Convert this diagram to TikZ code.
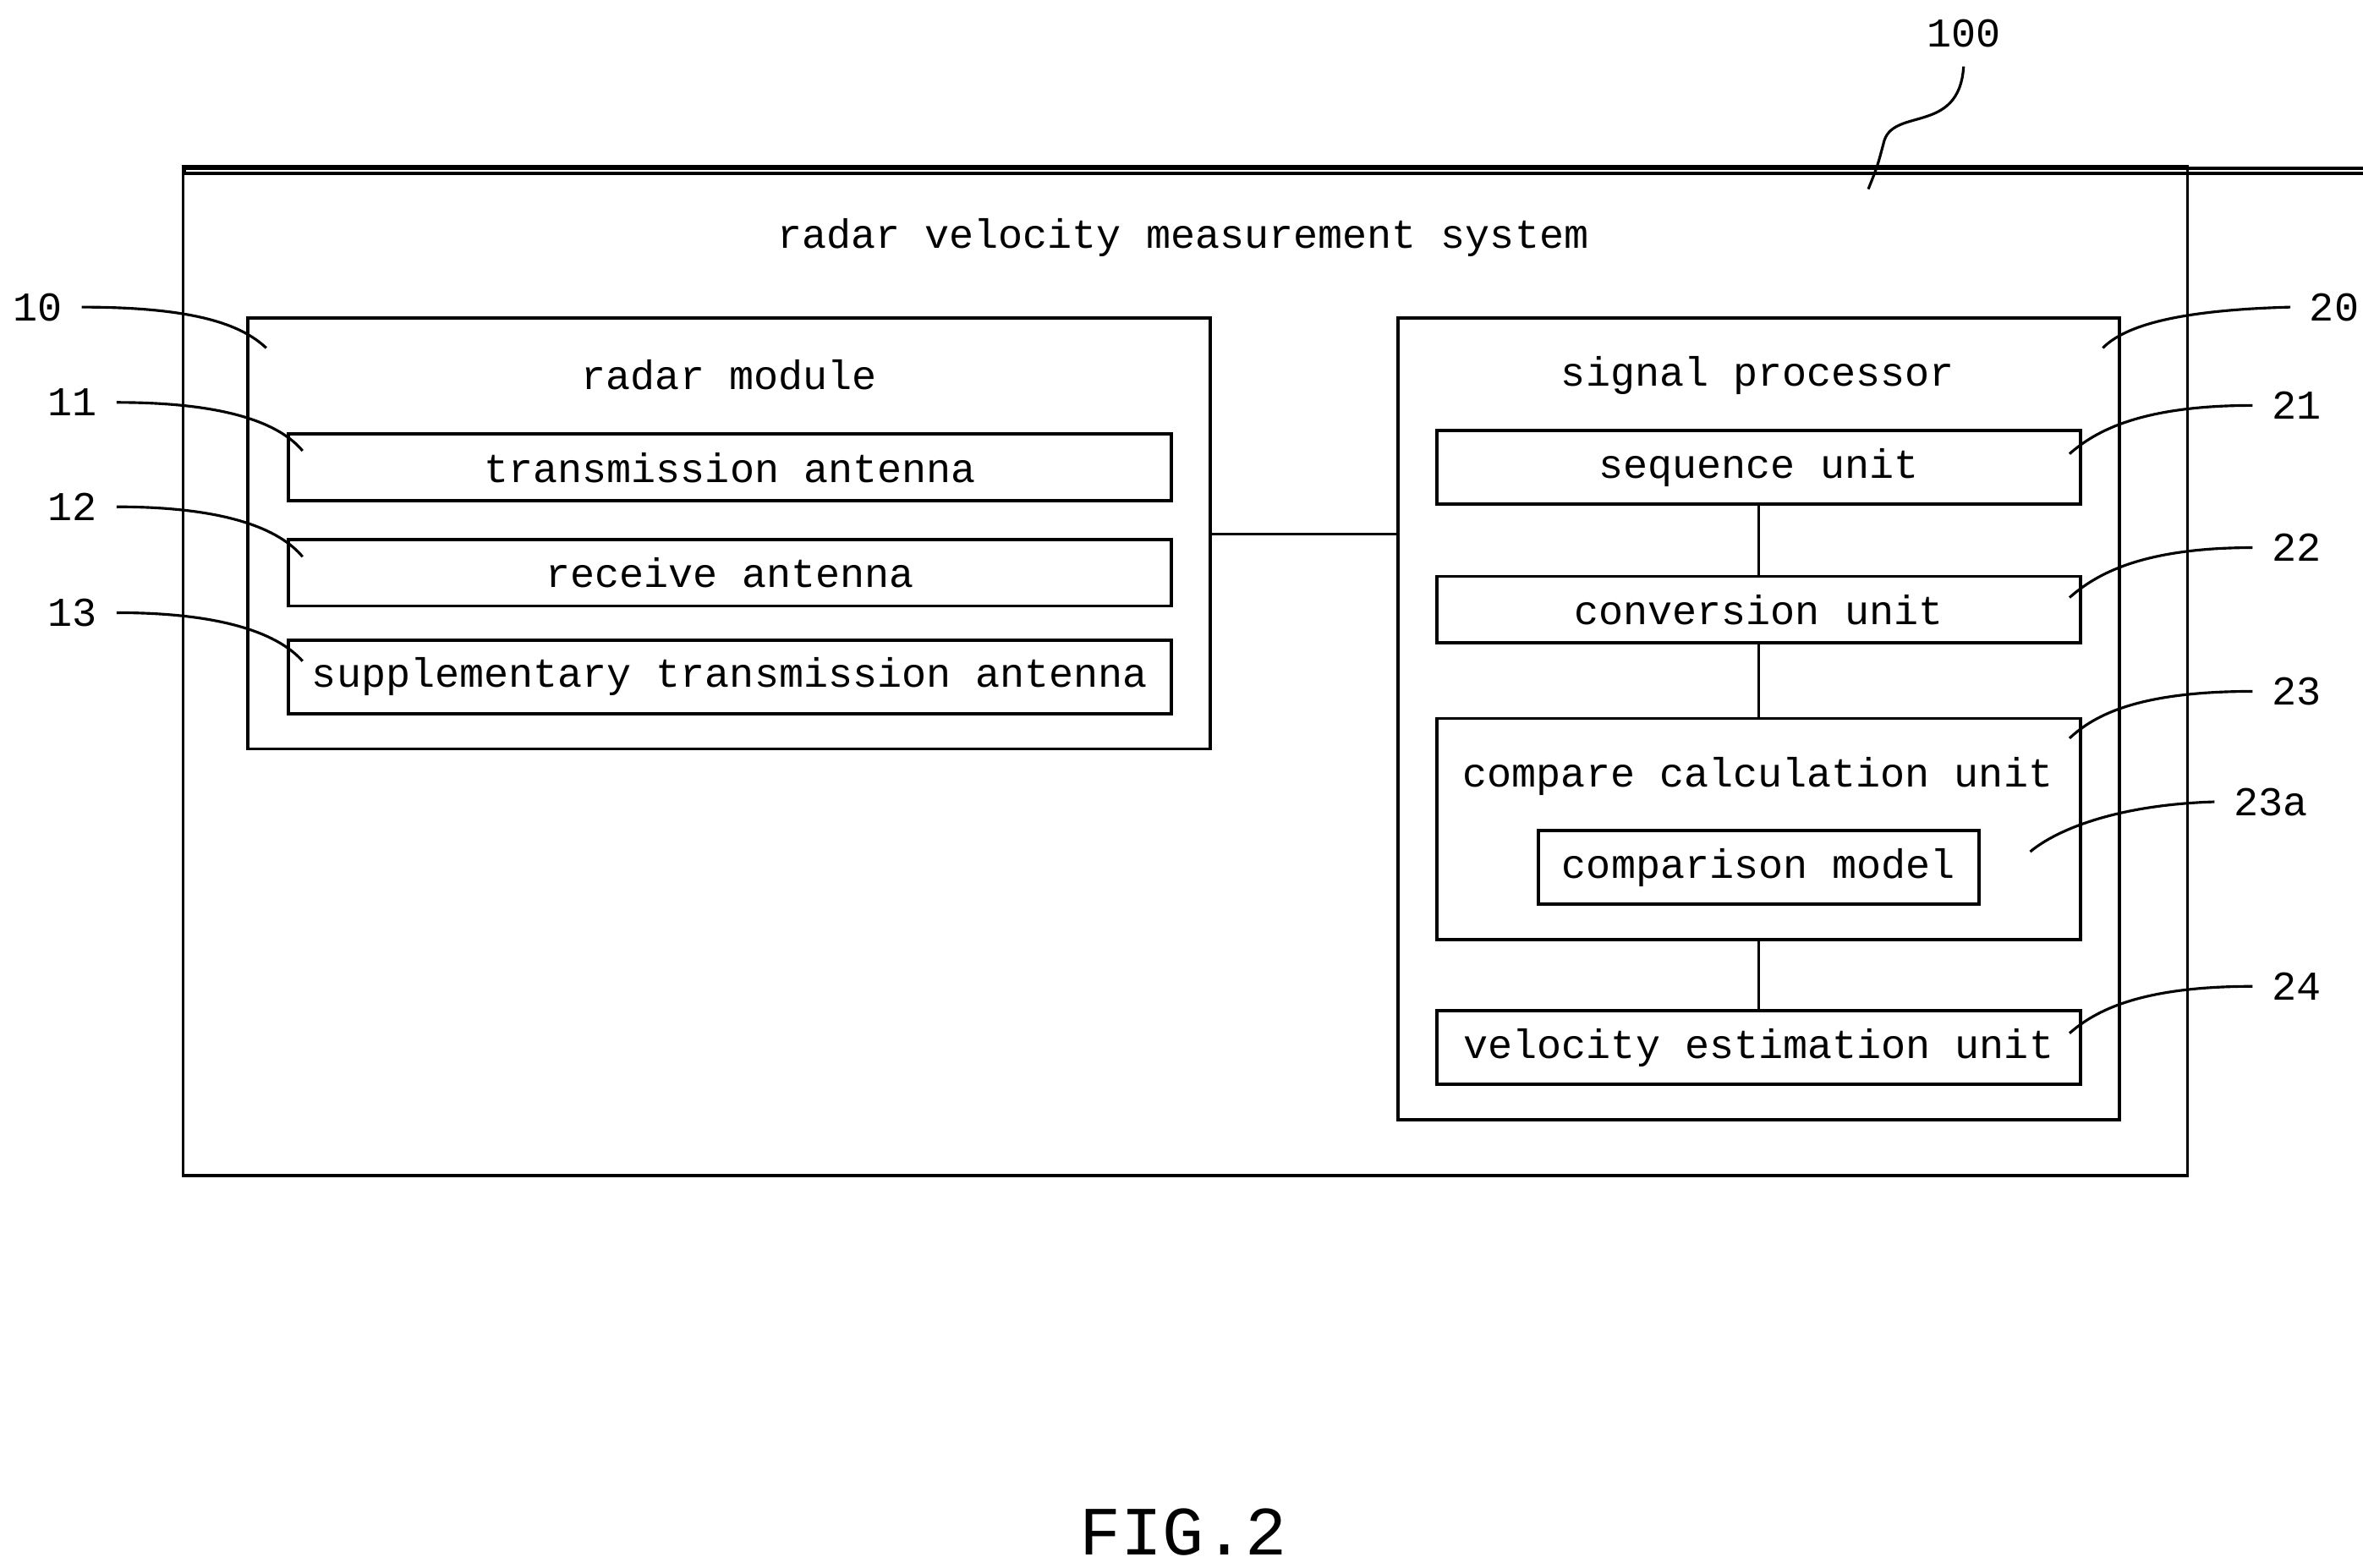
\documentclass[tikz,border=0pt]{standalone}
\usepackage{fontspec}
\setmainfont{Liberation Mono}
\usetikzlibrary{positioning}
\begin{document}
\begin{tikzpicture}[x=0.01cm,y=-0.01cm,line width=0.6pt]
    \tikzstyle{every node}=[font=\fontsize{7.7}{9}\selectfont]
    \tikzstyle{box} = [draw,inner sep=0pt,anchor=north west]
    \tikzstyle{lead} = [draw,line width=0.5pt]
    \useasboundingbox (0,0) rectangle (1562,1036);
    % frames
    \node [box,minimum width=1325\pgflinewidth] (sys) at (121,110) {};
    \draw (121,110) rectangle (1446,777);
    \node (systitle) at (782,157) {radar velocity measurement system};
    \draw (164,210) rectangle (800,495);
    \node (radtitle) at (482,248) {radar module};
    \draw (924,210) rectangle (1401,740);
    \node (sigtitle) at (1162,248) {signal processor};
    % radar module parts
    \node [draw,minimum width=5.83cm,minimum height=0.44cm] (tx) at (482.5,309) {transmission antenna};
    \node [draw,minimum width=5.83cm,minimum height=0.44cm] (rx) at (482.5,378.5) {receive antenna};
    \node [draw,minimum width=5.83cm,minimum height=0.44cm] (stx) at (482.5,447.5) {supplementary transmission antenna};
    % signal processor parts
    \node [draw,minimum width=4.25cm,minimum height=0.44cm] (seq) at (1162.5,309) {sequence unit};
    \node [draw,minimum width=4.25cm,minimum height=0.44cm] (conv) at (1162.5,403) {conversion unit};
    \node [draw,minimum width=4.25cm,minimum height=1.46cm] (cmp) at (1162.5,548) {};
    \node (cmptitle) at (1162,513) {compare calculation unit};
    \node [draw,minimum width=2.91cm,minimum height=0.45cm] (model) at (1162.5,573.5) {comparison model};
    \node [draw,minimum width=4.25cm,minimum height=0.45cm] (vel) at (1162.5,692.5) {velocity estimation unit};
    \coordinate (rm) at (800,353);
    \coordinate (sp) at (924,353);
    \draw (rm) -- (sp);
    \draw (seq) -- (conv);
    \draw (conv) -- (cmp);
    \draw (cmp) -- (vel);
    % reference numerals
    \node (n100) at (1298,22) {100};
    \node (n10) at (25,203) {10};
    \node (n11) at (48,266) {11};
    \node (n12) at (48,335) {12};
    \node (n13) at (48,405) {13};
    \node (n20) at (1543,203) {20};
    \node (n21) at (1518,268) {21};
    \node (n22) at (1518,362) {22};
    \node (n23) at (1518,457) {23};
    \node (n23a) at (1501,530) {23a};
    \node (n24) at (1518,652) {24};
    \path [lead] (n100.south) .. controls (1295,90) and (1250,70) .. (1245,95) .. controls (1241,110) .. (1235,125);
    \path [lead] (n10.east) .. controls (130,203) and (160,215) .. (176,230);
    \path [lead] (n11.east) .. controls (150,266) and (185,280) .. (200,298);
    \path [lead] (n12.east) .. controls (150,335) and (185,350) .. (200,368);
    \path [lead] (n13.east) .. controls (150,405) and (185,420) .. (200,437);
    \path [lead] (n20.west) .. controls (1440,205) and (1405,215) .. (1390,230);
    \path [lead] (n21.west) .. controls (1415,268) and (1385,285) .. (1368,300);
    \path [lead] (n22.west) .. controls (1415,362) and (1385,380) .. (1368,395);
    \path [lead] (n23.west) .. controls (1415,457) and (1385,472) .. (1368,488);
    \path [lead] (n23a.west) .. controls (1400,532) and (1360,548) .. (1342,563);
    \path [lead] (n24.west) .. controls (1415,652) and (1385,668) .. (1368,683);
    \node [font=\fontsize{13}{15}\selectfont] (fig) at (782,1013) {FIG.2};
\end{tikzpicture}
\end{document}
